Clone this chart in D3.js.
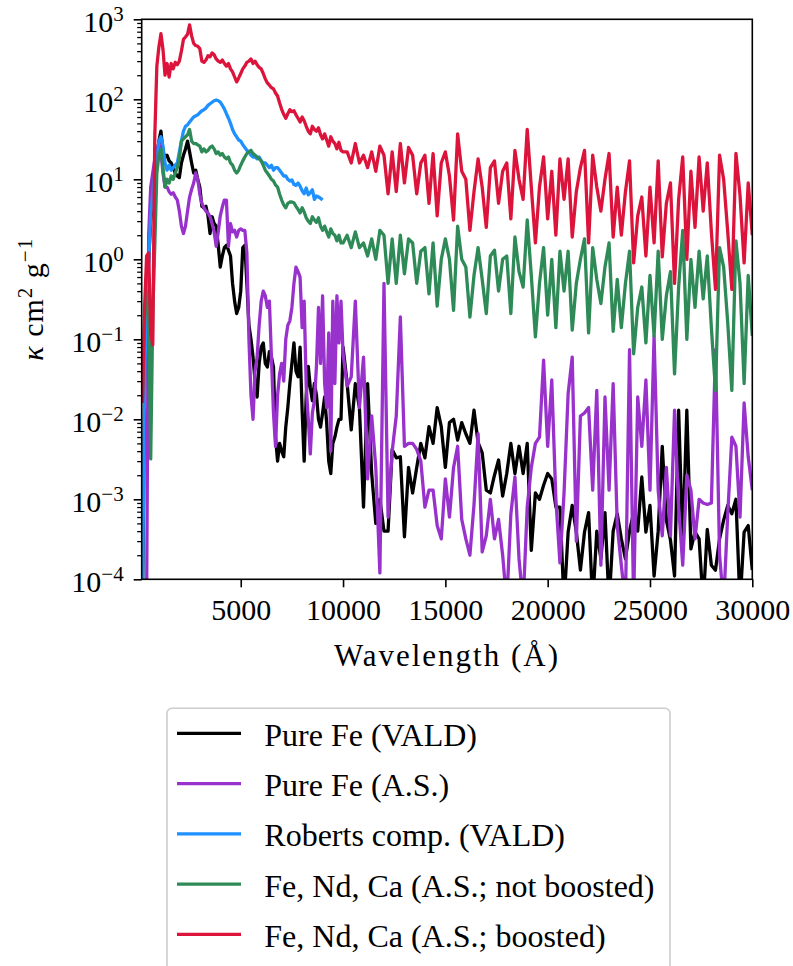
<!DOCTYPE html>
<html>
<head>
<meta charset="utf-8">
<script src="https://cdn.jsdelivr.net/npm/d3@7"></script>
<style>
  body { margin: 0; background: #fff; }
  text { font-family: "Liberation Serif", "Times New Roman", serif; fill: #000; }
</style>
</head>
<body>
<div class="chart"></div>
<script>
// wavelength grid (Å): 100 Å steps up to 10000, then 200 Å steps
const wavelength = d3.range(200, 10001, 100).concat(d3.range(10200, 30001, 200));
const robertsWavelength = d3.range(200, 9001, 100);

// opacity kappa (cm^2 g^-1)
const pureFeVald = [
  0.00005, 0.02, 0.3, 1, 3, 6, 11, 18, 30,                  // 200-1000
  40, 22, 19, 20, 17, 16, 14, 12, 11, 10.5,                 // 1100-2000
  16, 20, 24, 30, 22, 16, 12, 13, 10, 8,                    // 2100-3000
  4.6, 4.4, 4.6, 3.5, 2.1, 3.4, 2.8, 2.6, 1.5, 0.8,         // 3100-4000
  1.1, 1.4, 1.5, 1.3, 1.1, 0.5, 0.3, 0.21, 0.25, 0.4,       // 4100-5000
  1.4, 1.5, 0.5, 0.15, 0.1, 0.06, 0.03, 0.019, 0.05, 0.08,  // 5100-6000
  0.09, 0.05, 0.045, 0.07, 0.06, 0.045, 0.006, 0.003, 0.005, 0.004,
  0.0034, 0.008, 0.014, 0.028, 0.05, 0.09, 0.04, 0.034, 0.08, 0.013,
  0.003, 0.02, 0.046, 0.025, 0.017, 0.028, 0.02, 0.01, 0.008, 0.012,
  0.019, 0.009, 0.003, 0.0021, 0.005, 0.006, 0.008, 0.01, 0.01, 0.08,   // 9100-10000
  0.028, 0.0074, 0.028, 0.014, 0.0008, 0.028, 0.0021, 0.0005, 0.001, 0.0004,   // 10200-12000
  0.0004, 0.0042, 0.0033, 0.0034, 0.00034, 0.0025, 0.0012, 0.0025, 0.005, 0.0033,
  0.0081, 0.005, 0.014, 0.0081, 0.0025, 0.0091, 0.01, 0.0055, 0.0091, 0.0066,
  0.005, 0.013, 0.0051, 0.0038, 0.0013, 0.0012, 0.002, 0.0031, 0.0011, 0.0021,
  0.005, 0.0021, 0.0046, 0.0021, 0.005, 0.00023, 0.0012, 0.001, 0.0015, 0.0021,
  0.0018, 0.0008, 0.0008, 0.00005, 0.00039, 0.00084, 0.00039, 0.00013, 0.00039, 0.00068,
  0.00005, 0.0004, 0.00018, 0.00068, 0.00005, 0.0004, 0.00066, 0.00032, 0.00018, 0.0004,
  0.00068, 0.0004, 0.0019, 0.00039, 0.00084, 0.00011, 0.0004, 0.0046, 0.00055, 0.00031,
  0.00011, 0.013, 0.00027, 0.013, 0.00024, 0.00039, 0.00032, 0.00005, 0.00042, 0.00015,
  0.00013, 0.00032, 0.00055, 0.00084, 0.00066, 0.001, 0.00005, 0.00039, 0.00047, 0.00013  // 28200-30000
];

const pureFeAS = [
  0.00005, 0.00005, 0.00005, 2, 8, 12, 18, 24, 28,
  22, 12, 8, 8, 7, 6.5, 6.8, 6, 5.5, 4,
  2.6, 2.1, 2.6, 4, 6, 7.5, 9, 12, 10, 6.5,
  5, 4.4, 4, 3.8, 3.4, 2.8, 2.2, 1.45, 2.2, 3.5,
  4.5, 5.5, 5.5, 1.45, 2.8, 2.2, 2.3, 1.9, 2.3, 2.4,
  2.3, 2.3, 1.2, 0.1, 0.02, 0.01, 0.04, 0.06, 0.15, 0.3,
  0.4, 0.35, 0.25, 0.3, 0.06, 0.012, 0.0046, 0.02, 0.037, 0.05,
  0.03, 0.1, 0.15, 0.17, 0.25, 0.5, 0.8, 0.7, 0.6, 0.14,
  0.3, 0.026, 0.01, 0.0037, 0.012, 0.017, 0.046, 0.25, 0.05, 0.35,
  0.028, 0.014, 0.12, 0.004, 0.3, 0.028, 0.35, 0.09, 0.3, 0.066,
  0.026, 0.034, 0.3, 0.014, 0.06, 0.0018, 0.011, 0.0025, 0.00012, 0.5,
  0.0006, 0.004, 0.011, 0.19, 0.0046, 0.005, 0.005, 0.0042, 0.003, 0.0008,
  0.0013, 0.0013, 0.00047, 0.00032, 0.0018, 0.0006, 0.0025, 0.0046, 0.00056, 0.00032,
  0.0002, 0.00086, 0.0066, 0.00022, 0.00035, 0.001, 0.00032, 0.00056, 0.0002, 0.00005,
  0.00065, 0.0019, 0.00018, 0.00005, 0.0008, 0.0025, 0.005, 0.006, 0.055, 0.0046,
  0.031, 0.001, 0.00016, 0.0012, 0.021, 0.06, 0.0003, 0.011, 0.012, 0.014,
  0.0013, 0.023, 0.00015, 0.019, 0.0013, 0.028, 0.00047, 0.00015, 0.00005, 0.074,
  0.00005, 0.019, 0.0046, 0.031, 0.0013, 0.11, 0.0013, 0.00035, 0.0025, 0.00035,
  0.013, 0.0008, 0.00015, 0.002, 0.0013, 0.00032, 0.001, 0.0009, 0.00086, 0.0009,
  0.074, 0.0002, 0.00005, 0.00065, 0.006, 0.0046, 0.0006, 0.016, 0.0034, 0.0013
];

const robertsVald = [
  0.00005, 0.03, 0.3, 0.9, 3.5, 6.5, 12, 19, 30,
  34, 26, 16, 13, 15, 13, 14, 15, 16, 22,
  30, 40, 46, 48, 52, 56, 60, 62, 64, 68,
  72, 74, 78, 84, 88, 92, 96, 98, 96, 92,
  84, 76, 66, 58, 50, 42, 37, 34, 31, 30,
  27, 25, 23, 22, 20, 19, 19, 18, 19, 17,
  16, 16, 15, 14, 15, 13, 14, 14, 13, 12,
  11, 11, 10, 9.5, 9.8, 8.6, 8.4, 9, 8.2, 7.2,
  6.6, 7.8, 6.4, 6.8, 7.4, 5.6, 6.2, 6, 5.8, 5.5
];

const feNdCaNotBoosted = [
  0.02, 0.15, 0.4, 0.3, 0.0032, 0.2, 1.5, 12, 20,
  24, 14, 8, 10, 9, 11, 10, 12, 14, 18,
  30, 32, 34, 36, 42, 30, 28, 28, 27, 26,
  22, 24, 22, 23, 25, 26, 24, 21, 22, 20,
  21, 19, 18, 19, 16, 15, 13, 12, 13, 15,
  17, 19, 21, 22, 23, 21, 20, 19, 18, 17,
  15, 13, 12, 11, 10, 9.5, 8.5, 8, 6.5, 5.5,
  4.8, 4.4, 5, 5.2, 5.2, 5.1, 4.6, 4.2, 3.8, 4.4,
  3.9, 3.3, 3, 2.8, 3.4, 3.1, 2.9, 3.3, 2.6, 2.3,
  2.6, 2.2, 1.9, 2.4, 2.1, 2, 1.7, 2, 1.6, 1.6,
  2, 1.4, 2.2, 1.4, 1.6, 1.1, 1.8, 1, 2.3, 2,
  0.5, 1.8, 0.5, 2, 0.66, 1.8, 1.6, 0.5, 1.26, 1.4,
  0.37, 1.6, 0.26, 1, 1.8, 1, 0.23, 2.6, 1, 0.8,
  0.19, 0.63, 1.4, 0.56, 0.21, 1.1, 1.3, 0.4, 1, 1.1,
  0.21, 1.9, 0.7, 0.45, 3.1, 0.63, 0.107, 0.5, 1.4, 0.2,
  1, 0.14, 1.26, 0.4, 1.26, 0.13, 0.5, 1, 1.8, 0.12,
  1.4, 0.56, 0.28, 0.8, 1.6, 0.126, 0.56, 0.14, 0.5, 1.26,
  0.066, 0.25, 0.45, 0.09, 0.63, 0.11, 1.26, 0.1, 0.35, 0.7,
  0.037, 0.45, 2.3, 0.1, 1, 0.25, 1.26, 0.32, 1.1, 0.14,
  0.023, 1.4, 0.8, 0.16, 0.023, 1.7, 0.5, 0.028, 0.63, 0.11
];

const feNdCaBoosted = [
  0.016, 0.25, 1.1, 1.2, 0.12, 0.085, 35, 260, 450,
  660, 420, 200, 280, 190, 280, 240, 290, 270, 300,
  400, 560, 600, 650, 850, 620, 500, 470, 460, 430,
  300, 290, 310, 350, 340, 380, 360, 320, 300, 290,
  310, 280, 260, 280, 240, 220, 190, 165, 185, 210,
  240, 260, 290, 300, 320, 280, 300, 270, 250, 240,
  210, 180, 160, 150, 140, 135, 120, 110, 90, 75,
  65, 58, 66, 74, 70, 72, 64, 58, 52, 60,
  54, 46, 40, 37, 46, 42, 40, 44, 36, 32,
  37, 31, 26, 34, 30, 28, 24, 29, 23, 22,
  22, 16, 28, 16, 20, 14, 22, 12.6, 26, 20,
  6.6, 22, 7, 28, 9, 25, 20, 6.6, 16, 20,
  5, 21, 3.5, 16, 22, 11, 3.1, 37, 12.6, 10,
  2.3, 7, 18, 8, 2.5, 14, 17, 5, 12.6, 16,
  3.2, 23, 10, 5.6, 42, 8, 1.6, 8, 19, 3.2,
  12.6, 2, 18, 5.6, 18, 1.9, 7, 14, 23, 1.6,
  20, 8, 4, 10, 21, 1.9, 8, 2, 7, 17,
  0.9, 3.5, 6, 1.1, 8, 1.6, 17, 1.07, 5, 9,
  0.5, 5.6, 19, 1, 12.6, 2.5, 19, 4, 16, 2.2,
  0.42, 20, 10, 2.2, 0.42, 21, 6.3, 0.9, 9, 2
];

const seriesNames = ["Pure Fe (VALD)", "Pure Fe (A.S.)", "Roberts comp. (VALD)",
                     "Fe, Nd, Ca (A.S.; not boosted)", "Fe, Nd, Ca (A.S.; boosted)"];
const seriesColors = ["#000000", "#9932cc", "#1e90ff", "#2e8b57", "#dc143c"];
const xTickValues = [5000, 10000, 15000, 20000, 25000, 30000];
const yTickExponents = [-4, -3, -2, -1, 0, 1, 2, 3];

const series = [
  {wl: wavelength, k: pureFeVald},
  {wl: wavelength, k: pureFeAS},
  {wl: robertsWavelength, k: robertsVald},
  {wl: wavelength, k: feNdCaNotBoosted},
  {wl: wavelength, k: feNdCaBoosted}
];

const W = 793, H = 966;
const margin = {top: 19.3, left: 141.7};
const w = 752.3 - margin.left, h = 579.3 - margin.top;

const svg = d3.select(".chart").append("svg")
  .attr("width", W).attr("height", H);

const g = svg.append("g")
  .attr("transform", `translate(${margin.left},${margin.top})`);

const x = d3.scaleLinear().domain([160, 30000]).range([0, w]);
const y = d3.scaleLog().domain([1e-4, 1e3]).range([h, 0]);

g.append("clipPath").attr("id", "plotclip")
  .append("rect").attr("width", w).attr("height", h);

const line = d3.line()
  .x(d => x(d[0]))
  .y(d => y(d[1]));

const lines = g.append("g").attr("clip-path", "url(#plotclip)");
series.forEach((s, i) => {
  lines.append("path")
    .datum(s.wl.map((l, j) => [l, s.k[j]]))
    .attr("fill", "none")
    .attr("stroke", seriesColors[i])
    .attr("stroke-width", 3.3)
    .attr("stroke-linejoin", "round")
    .attr("d", line);
});

// axes
const xAxis = d3.axisBottom(x).tickValues(xTickValues)
  .tickSize(8).tickPadding(11).tickFormat(d3.format("d"));
const gx = g.append("g").attr("transform", `translate(0,${h})`).call(xAxis);
gx.select(".domain").remove();
gx.selectAll("line").attr("stroke-width", 1.6);
gx.selectAll("text").attr("font-size", 30).attr("font-family", "Liberation Serif");

const minorY = [];
yTickExponents.slice(0, -1).forEach(e => {
  for (let m = 2; m < 10; m++) minorY.push(m * Math.pow(10, e));
});
const gym = g.append("g").call(d3.axisLeft(y).tickValues(minorY).tickSize(4.5).tickFormat(""));
gym.select(".domain").remove();
gym.selectAll("line").attr("stroke-width", 1.3);

const yAxis = d3.axisLeft(y).tickValues(yTickExponents.map(e => Math.pow(10, e)))
  .tickSize(8).tickPadding(10).tickFormat("");
const gy = g.append("g").call(yAxis);
gy.select(".domain").remove();
gy.selectAll("line").attr("stroke-width", 1.6);
gy.selectAll("text").each(function(d, i) {
  const t = d3.select(this)
    .attr("font-size", 30).attr("font-family", "Liberation Serif")
    .attr("dy", "0.41em");
  t.text("10");
  t.append("tspan").attr("font-size", 21).attr("dy", -11)
    .text(String(yTickExponents[i]).replace("-", "\u2212"));
});

// spines
g.append("rect").attr("width", w).attr("height", h)
  .attr("fill", "none").attr("stroke", "#000").attr("stroke-width", 1.6);

// axis labels
svg.append("text")
  .attr("x", margin.left + w / 2).attr("y", 666)
  .attr("text-anchor", "middle").attr("font-size", 31)
  .attr("letter-spacing", 2)
  .text("Wavelength (Å)");

const yl = svg.append("text")
  .attr("transform", `translate(43,${margin.top + h / 2}) rotate(-90)`)
  .attr("text-anchor", "middle").attr("font-size", 30)
  .attr("letter-spacing", 1);
yl.append("tspan").attr("font-style", "italic").text("κ");
yl.append("tspan").text(" cm");
yl.append("tspan").attr("font-size", 21).attr("dy", -11).text("2");
yl.append("tspan").attr("dy", 11).text(" g");
yl.append("tspan").attr("font-size", 21).attr("dy", -11).text("\u22121");

// legend
const legend = svg.append("g");
legend.append("rect")
  .attr("x", 167).attr("y", 708.3).attr("width", 503).attr("height", 290)
  .attr("rx", 5).attr("fill", "#fff")
  .attr("stroke", "#cccccc").attr("stroke-width", 1.6);

seriesNames.forEach((name, i) => {
  const cy = 733.3 + i * 50.25;
  legend.append("line")
    .attr("x1", 177).attr("x2", 241).attr("y1", cy).attr("y2", cy)
    .attr("stroke", seriesColors[i]).attr("stroke-width", 3.3);
  legend.append("text")
    .attr("x", 264.3).attr("y", cy + 12.5)
    .attr("font-size", 32)
    .text(name);
});
</script>
</body>
</html>
